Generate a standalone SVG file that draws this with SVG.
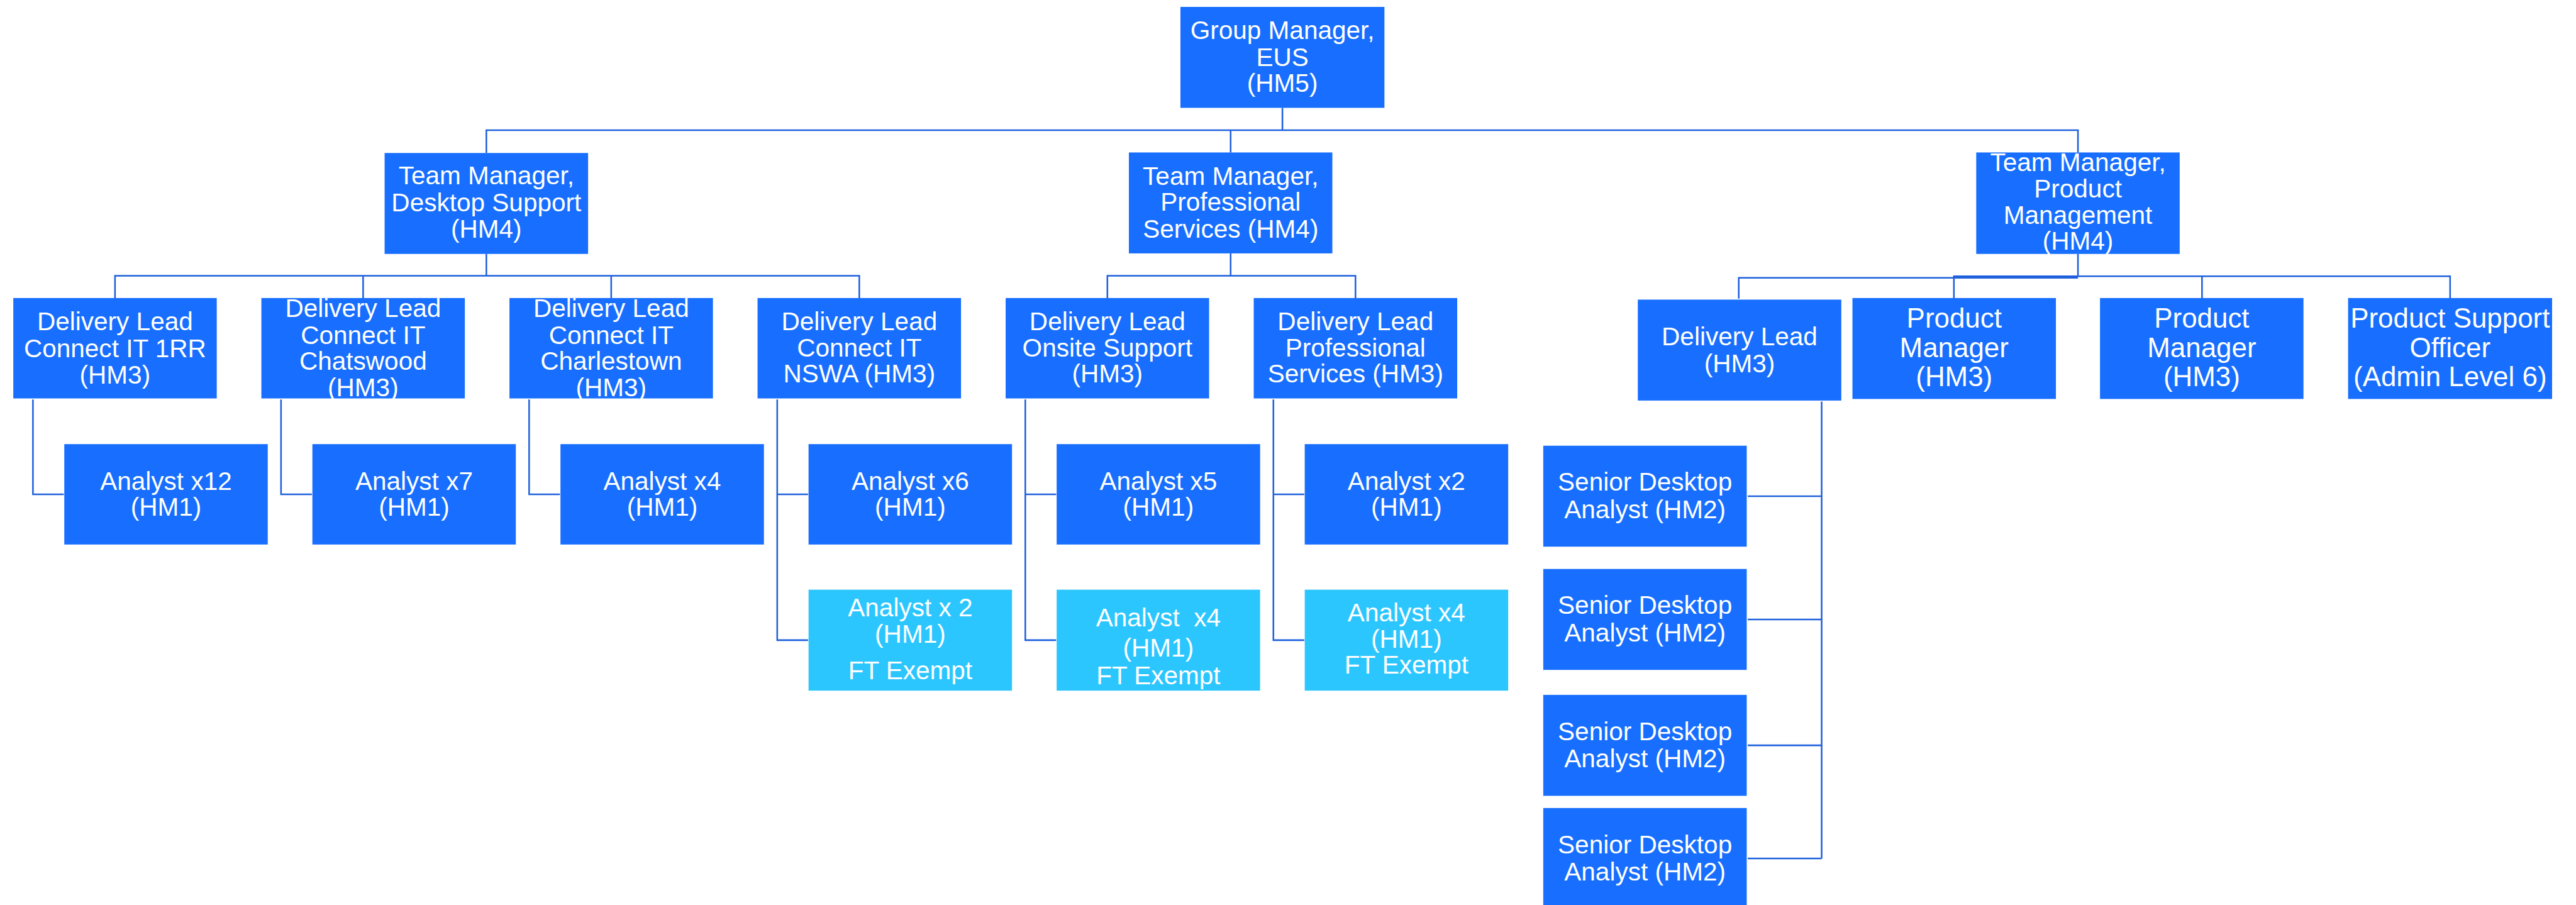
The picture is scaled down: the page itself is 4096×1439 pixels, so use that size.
<svg xmlns="http://www.w3.org/2000/svg" width="4096" height="1439" viewBox="0 0 4096 1439">
  <style>
    .box { fill: #176EFF; }
    .ft { fill: #2CC6FF; }
    .lbl { font-family: "Liberation Sans", Arial, sans-serif; font-size: 48px; fill: #FFFFFF; text-anchor: middle; }
    .big { font-size: 52px; }
    .wire { fill: none; stroke: #1E60DC; stroke-width: 3; }
  </style>
  <rect width="4096" height="1439" fill="#FFFFFF"/>
  <!-- layout is authored in 4849-wide units and scaled to the canvas -->
  <g transform="scale(0.84471)">
    <g id="connectors">
      <!-- Group Manager to Team Managers -->
      <path class="wire" d="M2414 203 V245 M915.5 288 V245 H3911.5 V287 M2316.5 245 V287"/>
      <!-- Desktop Support to delivery leads -->
      <path class="wire" d="M915.5 478 V519 M216.5 561 V519 H1617.5 V561 M683.5 519 V561 M1150.5 519 V561"/>
      <!-- Professional Services to delivery leads -->
      <path class="wire" d="M2316.5 477 V519 M2084.5 561 V519 H2551.5 V561"/>
      <!-- Product Management to its reports -->
      <path class="wire" d="M3911.5 478 V520 M3273 562 V523 H3911.5 M3678 561 V520 H4612 V561 M4145 520 V561"/>
      <!-- Delivery leads to analysts -->
      <path class="wire" d="M62 752 V930.5 H120 M529 752 V930.5 H587 M996 752 V930.5 H1054"/>
      <path class="wire" d="M1463 752 V1205 H1521 M1463 930.5 H1521 M1930 752 V1205 H1988 M1930 930.5 H1988 M2397 752 V1205 H2455 M2397 930.5 H2455"/>
      <!-- Delivery Lead (Product) to senior desktop analysts -->
      <path class="wire" d="M3429 756 V1616 M3290 934 H3429 M3290 1166 H3429 M3290 1403 H3429 M3290 1616 H3429"/>
    </g>

    <g id="group-manager">
      <rect class="box" x="2222" y="13" width="384" height="190"/>
      <text class="lbl"><tspan x="2414" y="73">Group Manager,</tspan><tspan x="2414" y="124">EUS</tspan><tspan x="2414" y="173">(HM5)</tspan></text>
    </g>

    <g id="tm-desktop-support">
      <rect class="box" x="724" y="288" width="383" height="190"/>
      <text class="lbl"><tspan x="915.5" y="347">Team Manager,</tspan><tspan x="915.5" y="398">Desktop Support</tspan><tspan x="915.5" y="447">(HM4)</tspan></text>
    </g>
    <g id="tm-professional-services">
      <rect class="box" x="2125" y="287" width="383" height="190"/>
      <text class="lbl"><tspan x="2316.5" y="348">Team Manager,</tspan><tspan x="2316.5" y="397">Professional</tspan><tspan x="2316.5" y="447">Services (HM4)</tspan></text>
    </g>
    <g id="tm-product-management">
      <rect class="box" x="3720" y="287" width="383" height="191"/>
      <text class="lbl"><tspan x="3911.5" y="322">Team Manager,</tspan><tspan x="3911.5" y="372">Product</tspan><tspan x="3911.5" y="421">Management</tspan><tspan x="3911.5" y="470">(HM4)</tspan></text>
    </g>

    <!-- delivery leads -->
    <g id="dl-1rr">
      <rect class="box" x="25" y="561" width="383" height="189"/>
      <text class="lbl"><tspan x="216.5" y="622">Delivery Lead</tspan><tspan x="216.5" y="672">Connect IT 1RR</tspan><tspan x="216.5" y="722">(HM3)</tspan></text>
    </g>
    <g id="dl-chatswood">
      <rect class="box" x="492" y="561" width="383" height="189"/>
      <text class="lbl"><tspan x="683.5" y="597">Delivery Lead</tspan><tspan x="683.5" y="647">Connect IT</tspan><tspan x="683.5" y="696">Chatswood</tspan><tspan x="683.5" y="746">(HM3)</tspan></text>
    </g>
    <g id="dl-charlestown">
      <rect class="box" x="959" y="561" width="383" height="189"/>
      <text class="lbl"><tspan x="1150.5" y="597">Delivery Lead</tspan><tspan x="1150.5" y="647">Connect IT</tspan><tspan x="1150.5" y="696">Charlestown</tspan><tspan x="1150.5" y="746">(HM3)</tspan></text>
    </g>
    <g id="dl-nswa">
      <rect class="box" x="1426" y="561" width="383" height="189"/>
      <text class="lbl"><tspan x="1617.5" y="622">Delivery Lead</tspan><tspan x="1617.5" y="671">Connect IT</tspan><tspan x="1617.5" y="720">NSWA (HM3)</tspan></text>
    </g>
    <g id="dl-onsite">
      <rect class="box" x="1893" y="561" width="383" height="189"/>
      <text class="lbl"><tspan x="2084.5" y="622">Delivery Lead</tspan><tspan x="2084.5" y="671">Onsite Support</tspan><tspan x="2084.5" y="720">(HM3)</tspan></text>
    </g>
    <g id="dl-professional">
      <rect class="box" x="2360" y="561" width="383" height="189"/>
      <text class="lbl"><tspan x="2551.5" y="622">Delivery Lead</tspan><tspan x="2551.5" y="671">Professional</tspan><tspan x="2551.5" y="720">Services (HM3)</tspan></text>
    </g>

    <!-- analysts -->
    <g id="analyst-x12">
      <rect class="box" x="121" y="836" width="383" height="189"/>
      <text class="lbl"><tspan x="312.5" y="922">Analyst x12</tspan><tspan x="312.5" y="971">(HM1)</tspan></text>
    </g>
    <g id="analyst-x7">
      <rect class="box" x="588" y="836" width="383" height="189"/>
      <text class="lbl"><tspan x="779.5" y="922">Analyst x7</tspan><tspan x="779.5" y="971">(HM1)</tspan></text>
    </g>
    <g id="analyst-x4">
      <rect class="box" x="1055" y="836" width="383" height="189"/>
      <text class="lbl"><tspan x="1246.5" y="922">Analyst x4</tspan><tspan x="1246.5" y="971">(HM1)</tspan></text>
    </g>
    <g id="analyst-x6">
      <rect class="box" x="1522" y="836" width="383" height="189"/>
      <text class="lbl"><tspan x="1713.5" y="922">Analyst x6</tspan><tspan x="1713.5" y="971">(HM1)</tspan></text>
    </g>
    <g id="analyst-x5">
      <rect class="box" x="1989" y="836" width="383" height="189"/>
      <text class="lbl"><tspan x="2180.5" y="922">Analyst x5</tspan><tspan x="2180.5" y="971">(HM1)</tspan></text>
    </g>
    <g id="analyst-x2">
      <rect class="box" x="2456" y="836" width="383" height="189"/>
      <text class="lbl"><tspan x="2647.5" y="922">Analyst x2</tspan><tspan x="2647.5" y="971">(HM1)</tspan></text>
    </g>

    <!-- FT exempt analysts -->
    <g id="ft-nswa">
      <rect class="ft" x="1522" y="1110" width="383" height="190"/>
      <text class="lbl"><tspan x="1713.5" y="1160">Analyst x 2</tspan><tspan x="1713.5" y="1210">(HM1)</tspan><tspan x="1713.5" y="1278">FT Exempt</tspan></text>
    </g>
    <g id="ft-onsite">
      <rect class="ft" x="1989" y="1110" width="383" height="190"/>
      <text class="lbl" xml:space="preserve" style="white-space:pre"><tspan x="2180.5" y="1179">Analyst  x4</tspan><tspan x="2180.5" y="1236">(HM1)</tspan><tspan x="2180.5" y="1288">FT Exempt</tspan></text>
    </g>
    <g id="ft-professional">
      <rect class="ft" x="2456" y="1110" width="383" height="190"/>
      <text class="lbl"><tspan x="2647.5" y="1170">Analyst x4</tspan><tspan x="2647.5" y="1219">(HM1)</tspan><tspan x="2647.5" y="1268">FT Exempt</tspan></text>
    </g>

    <!-- product management reports -->
    <g id="dl-product">
      <rect class="box" x="3083" y="564" width="383" height="190"/>
      <text class="lbl"><tspan x="3274.5" y="650">Delivery Lead</tspan><tspan x="3274.5" y="701">(HM3)</tspan></text>
    </g>
    <g id="product-manager-1">
      <rect class="box" x="3487" y="561" width="383" height="190"/>
      <text class="lbl big"><tspan x="3678.5" y="617">Product</tspan><tspan x="3678.5" y="672">Manager</tspan><tspan x="3678.5" y="727">(HM3)</tspan></text>
    </g>
    <g id="product-manager-2">
      <rect class="box" x="3953" y="561" width="383" height="190"/>
      <text class="lbl big"><tspan x="4144.5" y="617">Product</tspan><tspan x="4144.5" y="672">Manager</tspan><tspan x="4144.5" y="727">(HM3)</tspan></text>
    </g>
    <g id="product-support-officer">
      <rect class="box" x="4420" y="561" width="384" height="190"/>
      <text class="lbl big"><tspan x="4612" y="617">Product Support</tspan><tspan x="4612" y="672">Officer</tspan><tspan x="4612" y="727">(Admin Level 6)</tspan></text>
    </g>

    <!-- senior desktop analysts -->
    <g id="senior-1">
      <rect class="box" x="2905" y="839" width="383" height="190"/>
      <text class="lbl"><tspan x="3096.5" y="924">Senior Desktop</tspan><tspan x="3096.5" y="975">Analyst (HM2)</tspan></text>
    </g>
    <g id="senior-2">
      <rect class="box" x="2905" y="1071" width="383" height="190"/>
      <text class="lbl"><tspan x="3096.5" y="1156">Senior Desktop</tspan><tspan x="3096.5" y="1207">Analyst (HM2)</tspan></text>
    </g>
    <g id="senior-3">
      <rect class="box" x="2905" y="1308" width="383" height="190"/>
      <text class="lbl"><tspan x="3096.5" y="1393">Senior Desktop</tspan><tspan x="3096.5" y="1444">Analyst (HM2)</tspan></text>
    </g>
    <g id="senior-4">
      <rect class="box" x="2905" y="1521" width="383" height="190"/>
      <text class="lbl"><tspan x="3096.5" y="1606">Senior Desktop</tspan><tspan x="3096.5" y="1657">Analyst (HM2)</tspan></text>
    </g>
  </g>
</svg>
